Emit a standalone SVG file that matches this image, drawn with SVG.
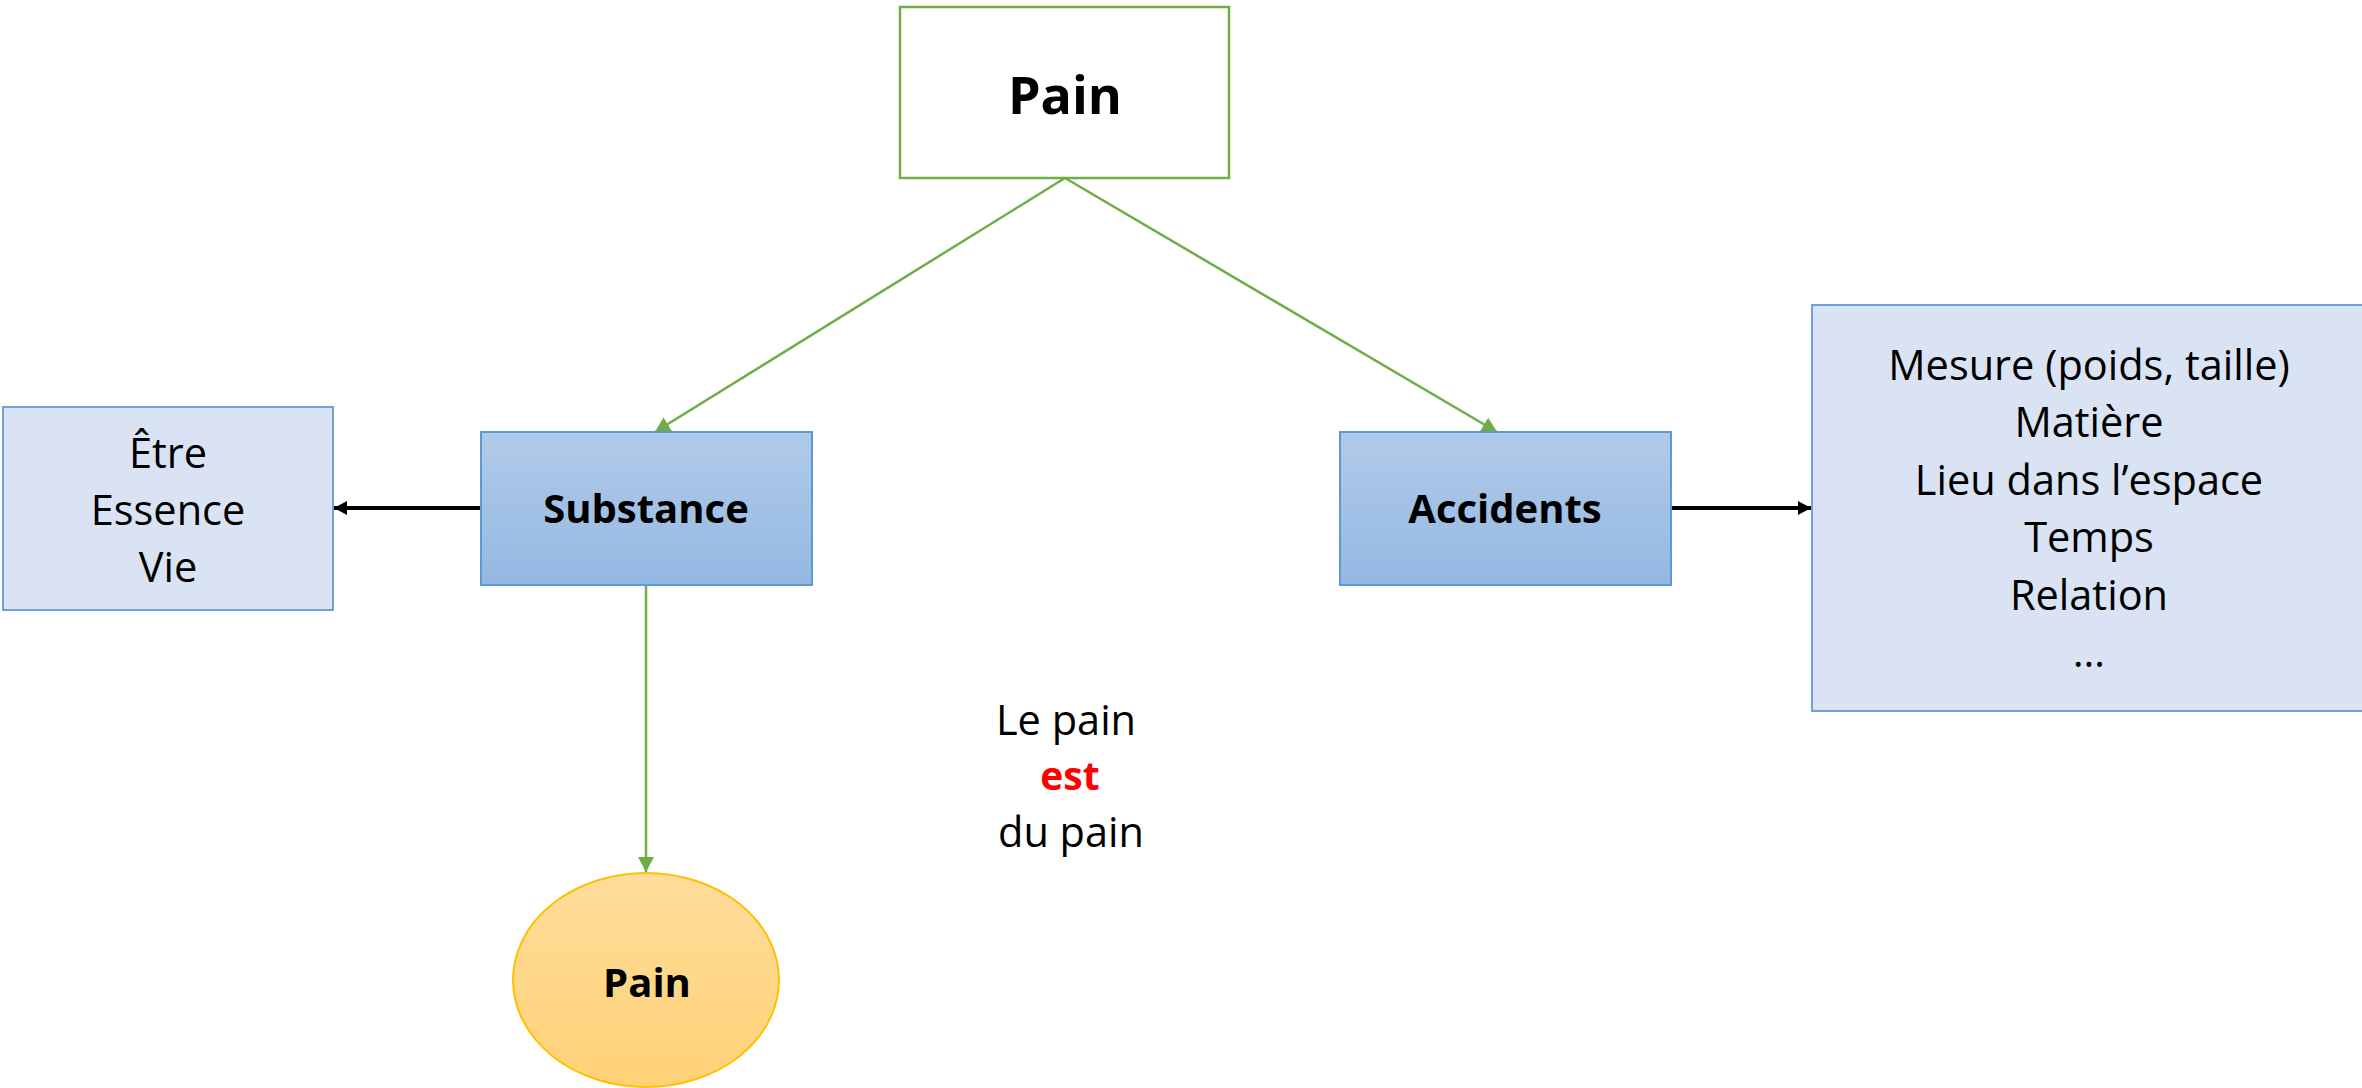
<svg xmlns="http://www.w3.org/2000/svg" width="2362" height="1088" viewBox="0 0 2362 1088">
<style>
  text { font-family: "Open Sans", "Noto Sans", sans-serif; fill: #000; text-anchor: middle; }
  .reg { font-size: 41.5px; }
  .bold { font-size: 40px; font-weight: bold; }
  .title { font-size: 52px; font-weight: bold; }
  .red { fill: #FF0000; font-size: 39px; font-weight: bold; }
  .grad-box { fill: url(#blueGrad); stroke: #5B9BD5; stroke-width: 2; }
  .light-box { fill: #DAE3F3; stroke: #6FA0DC; stroke-width: 2; }
  .green { stroke: #70AD47; stroke-width: 2.5; fill: none; marker-end: url(#gArrow); }
  .black { stroke: #000; stroke-width: 4; fill: none; marker-end: url(#bArrow); }
</style>
<defs>
  <linearGradient id="blueGrad" x1="0" y1="0" x2="0" y2="1">
    <stop offset="0" stop-color="#B1CAE9"/>
    <stop offset="1" stop-color="#94B8E3"/>
  </linearGradient>
  <linearGradient id="orangeGrad" x1="0" y1="0" x2="0" y2="1">
    <stop offset="0" stop-color="#FFDC9C"/>
    <stop offset="1" stop-color="#FFD276"/>
  </linearGradient>
  <marker id="gArrow" markerUnits="userSpaceOnUse" markerWidth="16" markerHeight="16" refX="15" refY="8" orient="auto">
    <path d="M0,0 L15,8 L0,16 z" fill="#70AD47"/>
  </marker>
  <marker id="bArrow" markerUnits="userSpaceOnUse" markerWidth="14" markerHeight="14" refX="13" refY="7" orient="auto">
    <path d="M0,0 L13,7 L0,14 z" fill="#000"/>
  </marker>
</defs>
<rect width="2362" height="1088" fill="#FFFFFF"/>

<g id="connectors">
  <line class="green" x1="1065" y1="178" x2="655" y2="432"/>
  <line class="green" x1="1065" y1="178" x2="1497" y2="432"/>
  <line class="green" x1="646" y1="585" x2="646" y2="872"/>
  <line class="black" x1="480" y1="508" x2="334" y2="508"/>
  <line class="black" x1="1672" y1="508" x2="1811" y2="508"/>
</g>

<g id="node-pain-top">
  <rect x="900" y="7" width="329" height="171" fill="#FFFFFF" stroke="#70AD47" stroke-width="2.5"/>
  <text class="title" x="1065" y="114">Pain</text>
</g>

<g id="node-substance">
  <rect class="grad-box" x="481" y="432" width="331" height="153"/>
  <text class="bold" x="646" y="523">Substance</text>
</g>

<g id="node-accidents">
  <rect class="grad-box" x="1340" y="432" width="331" height="153"/>
  <text class="bold" x="1505" y="523">Accidents</text>
</g>

<g id="node-essence">
  <rect class="light-box" x="3" y="407" width="330" height="203"/>
  <text class="reg" x="168" y="468">Être</text>
  <text class="reg" x="168" y="525">Essence</text>
  <text class="reg" x="168" y="582">Vie</text>
</g>

<g id="node-accidents-list">
  <rect class="light-box" x="1812" y="305" width="560" height="406"/>
  <text class="reg" x="2089" y="380">Mesure (poids, taille)</text>
  <text class="reg" x="2089" y="437">Matière</text>
  <text class="reg" x="2089" y="495">Lieu dans l’espace</text>
  <text class="reg" x="2089" y="552">Temps</text>
  <text class="reg" x="2089" y="610">Relation</text>
  <text class="reg" x="2089" y="667">…</text>
</g>

<g id="node-pain-ellipse">
  <ellipse cx="646" cy="980" rx="133" ry="107" fill="url(#orangeGrad)" stroke="#FFC000" stroke-width="2"/>
  <text class="bold" x="647" y="997">Pain</text>
</g>

<g id="label-center">
  <text class="reg" x="1066" y="735">Le pain</text>
  <text class="red" x="1070" y="790">est</text>
  <text class="reg" x="1071" y="847">du pain</text>
</g>
</svg>
